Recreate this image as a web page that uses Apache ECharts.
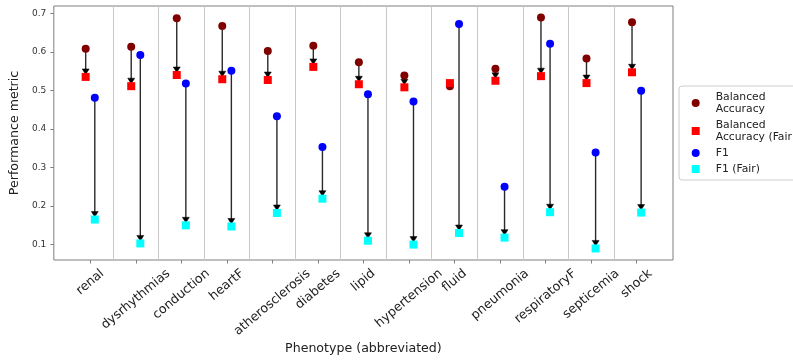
<!DOCTYPE html>
<html>
<head>
<meta charset="utf-8">
<script src="https://cdn.jsdelivr.net/npm/echarts@6/dist/echarts.min.js"></script>
<style>
  html, body { margin: 0; padding: 0; background: #fff; }
  #chart { width: 793px; height: 362px; }
</style>
</head>
<body>
<div id="chart"></div>
<script>
// data
const phenotypes = ['renal', 'dysrhythmias', 'conduction', 'heartF', 'atherosclerosis', 'diabetes',
  'lipid', 'hypertension', 'fluid', 'pneumonia', 'respiratoryF', 'septicemia', 'shock']
const balancedAcc = [0.608, 0.613, 0.687, 0.667, 0.602, 0.616, 0.573, 0.539, 0.511, 0.556, 0.689, 0.583, 0.677]
const balancedAccFair = [0.535, 0.511, 0.540, 0.529, 0.527, 0.561, 0.516, 0.508, 0.519, 0.525, 0.537, 0.519, 0.547]
const f1 = [0.481, 0.592, 0.518, 0.551, 0.433, 0.353, 0.490, 0.471, 0.672, 0.250, 0.621, 0.339, 0.499]
const f1Fair = [0.165, 0.103, 0.150, 0.147, 0.182, 0.219, 0.110, 0.100, 0.130, 0.118, 0.184, 0.090, 0.183]
const yTicks = [0.1, 0.2, 0.3, 0.4, 0.5, 0.6, 0.7]

const FONT = 'DejaVu Sans'
const X_MIN = -0.8
const X_MAX = 12.8
const Y_MIN = 0.06
const Y_MAX = 0.719
const SHIFT = 0.1 // side offset of the two metrics inside a category

const tickPos = phenotypes.map((_, i) => i)
const sepPos = phenotypes.slice(1).map((_, i) => i + 0.5)

// measure label widths so the rotated labels centre on their tick (like matplotlib)
const measureCtx = document.createElement('canvas').getContext('2d')
measureCtx.font = '12.6px "' + FONT + '"'

const arrowData = phenotypes.map((_, i) => [i - SHIFT, balancedAcc[i], balancedAccFair[i]])
  .concat(phenotypes.map((_, i) => [i + SHIFT, f1[i], f1Fair[i]]))

function renderArrow(params, api) {
  const x = api.value(0)
  const p0 = api.coord([x, api.value(1)])
  const p1 = api.coord([x, api.value(2)])
  const dy = p1[1] - p0[1]
  const dir = dy > 0 ? 1 : -1
  const shrink = 2.5
  const headLen = 5.5
  const headHalf = 3.5
  if (Math.abs(dy) < headLen + shrink + 1) return null
  const tipY = p1[1] - dir * shrink
  const baseY = tipY - dir * headLen
  return {
    type: 'group',
    children: [
      {
        type: 'line',
        shape: { x1: p0[0], y1: p0[1], x2: p0[0], y2: baseY + dir },
        style: { stroke: '#2a2a2a', lineWidth: 1.4 }
      },
      {
        type: 'polygon',
        shape: { points: [[p0[0] - headHalf, baseY], [p0[0] + headHalf, baseY], [p0[0], tipY]] },
        style: { fill: '#000', stroke: '#000', lineWidth: 0.5 }
      }
    ]
  }
}

function renderLabel(params, api) {
  const name = phenotypes[params.dataIndex]
  const p = api.coord([api.value(0), api.value(1)])
  const bottom = params.coordSys.y + params.coordSys.height
  const ang = 40 * Math.PI / 180
  const L = measureCtx.measureText(name).width
  const h = 14.7
  const H = L * Math.sin(ang) + h * Math.cos(ang)
  return {
    type: 'text',
    x: p[0],
    y: bottom + 6.3 + H / 2,
    rotation: ang,
    style: {
      text: name,
      fontSize: 12.6,
      fontFamily: FONT,
      fill: '#222',
      align: 'center',
      verticalAlign: 'middle'
    }
  }
}

const chart = echarts.init(document.getElementById('chart'))
const option = {
  animation: false,
  textStyle: { fontFamily: FONT },
  grid: {
    left: 48,
    top: 6,
    width: 625,
    height: 254,
    show: true,
    borderColor: '#7f7f7f',
    borderWidth: 1
  },
  legend: {
    orient: 'vertical',
    left: 679,
    top: 86,
    padding: [5, 10, 5, 12.7],
    itemGap: 4,
    itemWidth: 8,
    itemHeight: 8,
    selectedMode: false,
    borderColor: '#cccccc',
    borderWidth: 1,
    borderRadius: 3,
    backgroundColor: '#fff',
    textStyle: { fontSize: 10.8, fontFamily: FONT, color: '#222', lineHeight: 12, padding: [0, 0, 0, 11] },
    data: [
      { name: 'Balanced\nAccuracy', icon: 'circle' },
      { name: 'Balanced\nAccuracy (Fair)', icon: 'rect' },
      { name: 'F1', icon: 'circle' },
      { name: 'F1 (Fair)', icon: 'rect' }
    ]
  },
  xAxis: [
    {
      type: 'value',
      min: X_MIN,
      max: X_MAX,
      position: 'bottom',
      axisLine: { show: false, onZero: false },
      axisLabel: { show: false },
      splitLine: { show: false },
      axisTick: { show: true, customValues: tickPos, length: 3.5, lineStyle: { color: '#7f7f7f' } },
      name: 'Phenotype (abbreviated)',
      nameLocation: 'middle',
      nameGap: 82,
      nameTextStyle: { fontSize: 12.6, fontFamily: FONT, color: '#222' }
    },
    {
      type: 'value',
      min: X_MIN,
      max: X_MAX,
      position: 'top',
      axisLine: { show: false, onZero: false },
      axisLabel: { show: false },
      axisTick: { show: false, customValues: sepPos },
      splitLine: { show: true, lineStyle: { color: '#c8c8c8', width: 1 } }
    }
  ],
  yAxis: {
    type: 'value',
    min: Y_MIN,
    max: Y_MAX,
    position: 'left',
    axisLine: { show: false, onZero: false },
    splitLine: { show: false },
    axisTick: { show: true, customValues: yTicks, length: 3.5, lineStyle: { color: '#7f7f7f' } },
    axisLabel: {
      customValues: yTicks,
      formatter: v => v.toFixed(1),
      fontSize: 9,
      fontFamily: FONT,
      color: '#333',
      margin: 7.6
    },
    name: 'Performance metric',
    nameLocation: 'middle',
    nameGap: 20,
    nameTextStyle: { fontSize: 12.6, fontFamily: FONT, color: '#222' }
  },
  series: [
    {
      type: 'custom',
      clip: false,
      silent: true,
      renderItem: renderArrow,
      encode: { x: 0, y: [1, 2] },
      data: arrowData
    },
    {
      name: 'Balanced\nAccuracy',
      type: 'scatter',
      symbol: 'circle',
      symbolSize: 8,
      itemStyle: { color: '#800000', opacity: 1 },
      data: phenotypes.map((_, i) => [i - SHIFT, balancedAcc[i]])
    },
    {
      name: 'F1',
      type: 'scatter',
      symbol: 'circle',
      symbolSize: 8,
      itemStyle: { color: '#0000ff', opacity: 1 },
      data: phenotypes.map((_, i) => [i + SHIFT, f1[i]])
    },
    {
      name: 'Balanced\nAccuracy (Fair)',
      type: 'scatter',
      symbol: 'rect',
      symbolSize: 8,
      itemStyle: { color: '#ff0000', opacity: 1 },
      data: phenotypes.map((_, i) => [i - SHIFT, balancedAccFair[i]])
    },
    {
      name: 'F1 (Fair)',
      type: 'scatter',
      symbol: 'rect',
      symbolSize: 8,
      itemStyle: { color: '#00ffff', opacity: 1 },
      data: phenotypes.map((_, i) => [i + SHIFT, f1Fair[i]])
    },
    {
      type: 'custom',
      clip: false,
      silent: true,
      renderItem: renderLabel,
      encode: { x: 0, y: 1 },
      data: phenotypes.map((_, i) => [i, Y_MIN])
    }
  ]
}
chart.setOption(option)
window.addEventListener('resize', function() {
  chart.resize()
})
</script>
</body>
</html>
